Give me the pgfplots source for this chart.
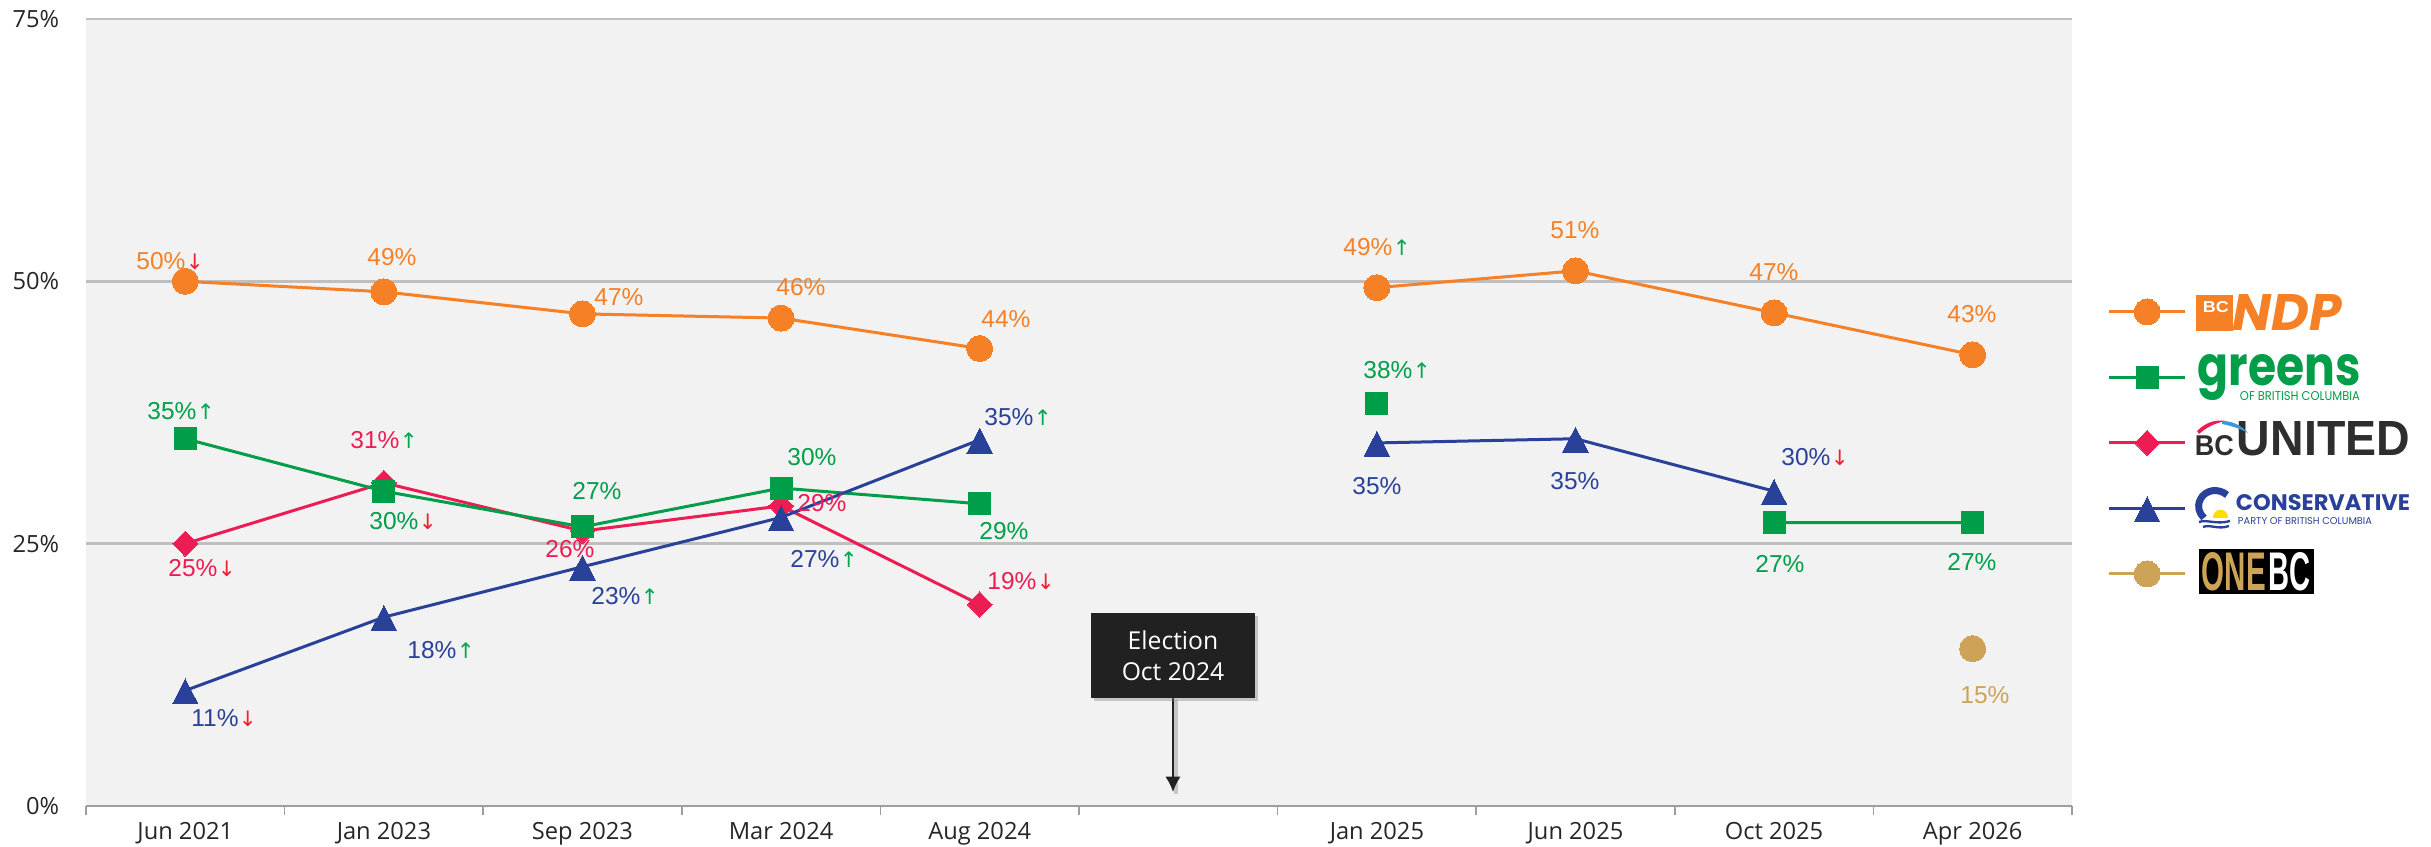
\documentclass[border=0pt]{standalone}
\usepackage{fontspec}
\usepackage{graphicx}
\usepackage{pgfplots}
\usepackage{pgfplotstable}
\pgfplotsset{compat=1.18}
\usetikzlibrary{shadows,arrows.meta}
\setmainfont{Liberation Sans}
\newfontfamily\tickf{Open Sans}
\newfontfamily\logof{Poppins}
\newfontfamily\arrf{DejaVu Sans}
\definecolor{ndp}{HTML}{F58025}
\definecolor{grn}{HTML}{009E49}
\definecolor{uni}{HTML}{ED1C53}
\definecolor{con}{HTML}{2A4199}
\definecolor{one}{HTML}{CDA358}
\definecolor{upc}{HTML}{00A651}
\definecolor{dnc}{HTML}{EE2030}
\definecolor{ticktxt}{HTML}{262626}
\pgfplotstableread{
x ndp grn uni con one
0 50 35 25 11 nan
1 49 30 30.8 18 nan
2 46.9 26.6 26.2 22.8 nan
3 46.5 30.3 28.6 27.5 nan
4 43.6 28.8 19.2 34.9 nan
5 nan nan nan nan nan
6 49.4 38.4 nan 34.6 nan
7 51 nan nan 35 nan
8 47 27 nan 30 nan
9 43 27 nan nan 15
}\polls
\pgfplotsset{
 sndp/.style={ndp,line width=.9pt,mark=*,mark size=3.9pt,mark options={solid,fill=ndp,draw=ndp,line width=0pt}},
 sgrn/.style={grn,line width=.9pt,mark=square*,mark size=3.3pt,mark options={solid,fill=grn,draw=grn,line width=0pt}},
 suni/.style={uni,line width=.9pt,mark=diamond*,mark size=3.8pt,mark options={solid,xscale=1.3,fill=uni,draw=uni,line width=0pt}},
 scon/.style={con,line width=.9pt,mark=triangle*,mark size=4.4pt,mark options={solid,yshift=-1.5pt,yscale=1.13,fill=con,draw=con,line width=0pt}},
 sone/.style={one,line width=.9pt,mark=*,mark size=3.9pt,mark options={solid,fill=one,draw=one,line width=0pt}},
}
\newcommand\up{\rlap{\kern.1pt\raisebox{-.1pt}{\arrf\fontsize{6.4pt}{7pt}\selectfont\textcolor{upc}{↑}}}}
\newcommand\dn{\rlap{\kern.1pt\raisebox{-.1pt}{\arrf\fontsize{6.4pt}{7pt}\selectfont\textcolor{dnc}{↓}}}}
% label: px x, px y (centre of the number), colour, text
\newcommand\lab[4]{\node[inner sep=0pt,text=#3,font=\fontsize{7.35pt}{8pt}\selectfont] at (axis cs:{(#1-86)/198.6-0.5},{(806-#2)/10.493}) {#4};}
% logo helper: dx, dy, w, h in reference pixels
\newcommand\logopart[5]{\rlap{\hspace*{\dimexpr 3pt*#1/10\relax}\smash{\raisebox{\dimexpr 3pt*#2/10+4.2pt\relax}{\resizebox{\dimexpr 3pt*#3/10\relax}{\dimexpr 3pt*#4/10\relax}{#5}}}}}
\newcommand\legrow[1]{\makebox[65pt][l]{#1\rule[-9.75pt]{0pt}{19.5pt}}}
\begin{document}
\begin{tikzpicture}
\useasboundingbox (-25.8pt,-12.3pt) rectangle (703.5pt,241.8pt);
\begin{axis}[
 scale only axis,width=595.8pt,height=236.1pt,
 xmin=-0.5,xmax=9.5,ymin=0,ymax=75,clip=false,
 axis background/.style={fill=black!5},
 unbounded coords=jump,
 axis x line*=bottom,
 y axis line style={draw=none},
 x axis line style={draw=black!38,line width=.5pt,-},
 xtick={0,1,2,3,4,6,7,8,9},
 xticklabels={Jun 2021,Jan 2023,Sep 2023,Mar 2024,Aug 2024,Jan 2025,Jun 2025,Oct 2025,Apr 2026},
 minor xtick={-0.5,0.5,...,9.5},
 major tick length=0pt,
 minor tick length=2.6pt,
 tick align=outside,
 minor tick style={draw=black!38,line width=.5pt},
 ytick={0,25,50,75},
 yticklabels={0\%,25\%,50\%,75\%},
 ymajorgrids,
 grid style={draw=black!25,line width=.85pt},
 xticklabel style={font=\tickf\fontsize{7.1pt}{8pt}\selectfont,text=ticktxt,yshift=-1.5pt},
 yticklabel style={font=\tickf\fontsize{7.1pt}{8pt}\selectfont,text=ticktxt,xshift=-4.5pt},
 legend cell align=left,
 legend style={at={(1.01762,0.6525)},anchor=north west,draw=none,fill=none,inner sep=0pt,
   nodes={inner sep=0pt},row sep=8.4pt,/tikz/column sep=2.8pt},
 legend image code/.code={\draw[mark repeat=2,mark phase=2,#1] plot coordinates {(0pt,0pt)(11.4pt,0pt)(22.8pt,0pt)};},
]
\addlegendimage{sndp}
\addlegendentry{\legrow{%
  \logopart{0}{-19}{37}{36}{\textcolor{ndp}{\rule{10pt}{10pt}}}%
  \logopart{7}{-1}{26}{11}{\textcolor{white}{\bfseries BC}}%
  \logopart{37}{-19}{109}{36}{\textcolor{ndp}{\logof\bfseries\itshape NDP}}}}
\addlegendimage{sgrn}
\addlegendentry{\legrow{%
  \logopart{2}{-8}{163}{31}{\textcolor{grn}{\logof\bfseries greens}}%
  \logopart{44}{-23}{120}{9}{\textcolor{grn}{\logof OF BRITISH COLUMBIA}}}}
\addlegendimage{suni}
\addlegendentry{\legrow{%
  \logopart{-1}{-13}{39}{20}{\textcolor{black!82}{\bfseries BC}}%
  \logopart{41}{-13}{173}{34}{\textcolor{black!82}{\bfseries UNITED}}}}
\addlegendimage{scon}
\addlegendentry{\legrow{%
  \logopart{40}{-2}{174}{16}{\textcolor{con}{\logof\bfseries CONSERVATIVE}}%
  \logopart{42}{-16}{134}{7}{\textcolor{con}{\logof PARTY OF BRITISH COLUMBIA}}}}
\addlegendimage{sone}
\addlegendentry{\legrow{%
  \logopart{3}{-20}{115}{45}{\textcolor{black}{\rule{10pt}{10pt}}}%
  \logopart{6}{-17}{64}{38}{\textcolor{one}{\bfseries ONE}}%
  \logopart{73}{-17}{42}{38}{\textcolor{white}{\bfseries BC}}}}

\addplot[sndp,forget plot] table[x=x,y=ndp]{\polls};
\addplot[suni,forget plot] table[x=x,y=uni]{\polls};
\addplot[sgrn,forget plot] table[x=x,y=grn]{\polls};
\addplot[scon,forget plot] table[x=x,y=con]{\polls};
\addplot[sone,forget plot] table[x=x,y=one]{\polls};

\lab{161}{261}{ndp}{50\%\dn}
\lab{392}{257}{ndp}{49\%}
\lab{619}{297}{ndp}{47\%}
\lab{801}{287}{ndp}{46\%}
\lab{1006}{319}{ndp}{44\%}
\lab{1368}{247}{ndp}{49\%\up}
\lab{1575}{230}{ndp}{51\%}
\lab{1774}{272}{ndp}{47\%}
\lab{1972}{314}{ndp}{43\%}
\lab{172}{411}{grn}{35\%\up}
\lab{394}{521}{grn}{30\%\dn}
\lab{597}{491}{grn}{27\%}
\lab{812}{457}{grn}{30\%}
\lab{1004}{531}{grn}{29\%}
\lab{1388}{370}{grn}{38\%\up}
\lab{1780}{564}{grn}{27\%}
\lab{1972}{562}{grn}{27\%}
\lab{193}{568}{uni}{25\%\dn}
\lab{375}{440}{uni}{31\%\up}
\lab{570}{549}{uni}{26\%}
\lab{822}{503}{uni}{29\%}
\lab{1012}{581}{uni}{19\%\dn}
\lab{215}{718}{con}{11\%\dn}
\lab{432}{650}{con}{18\%\up}
\lab{616}{596}{con}{23\%\up}
\lab{815}{559}{con}{27\%\up}
\lab{1009}{417}{con}{35\%\up}
\lab{1377}{486}{con}{35\%}
\lab{1575}{481}{con}{35\%}
\lab{1806}{457}{con}{30\%\dn}
\lab{1985}{695}{one}{15\%}

\draw[black!40,opacity=.5,line width=1.2pt] (axis cs:{(1176-86)/198.6-0.5},{(806-700)/10.493}) -- (axis cs:{(1176-86)/198.6-0.5},{(806-794)/10.493});
\draw[black!87,line width=.6pt,-{Latex[length=4.6pt,width=4.6pt]}] (axis cs:{(1173-86)/198.6-0.5},{(806-698)/10.493}) -- (axis cs:{(1173-86)/198.6-0.5},{(806-792)/10.493});
\node[fill=black!87,minimum width=49.2pt,minimum height=25.5pt,inner sep=0pt,text=white,align=center,
  font=\tickf\fontsize{7.4pt}{9.3pt}\selectfont,drop shadow={shadow xshift=1pt,shadow yshift=-1pt,opacity=.4}]
  at (axis cs:{(1173-86)/198.6-0.5},{(806-655.5)/10.493}) {Election\\Oct 2024};
\end{axis}
% small drawn parts of the logos, in reference pixels
\begin{scope}[x=0.3pt,y=-0.3pt,shift={(-25.8pt,241.8pt)}]
\fill[uni] (2197,431) .. controls (2205,423) and (2215,419) .. (2226,421) .. controls (2215,423) and (2207,427) .. (2199,434) -- cycle;
\fill[cyan!70!blue!80] (2222,421) .. controls (2232,421) and (2241,425) .. (2248,433) .. controls (2241,429) and (2232,426) .. (2222,424) -- cycle;
\draw[con,line width=2.1pt] (2227,495) .. controls (2219,488) and (2205,489) .. (2200,500) .. controls (2197,507) and (2199,513) .. (2204,518);
\fill[yellow!80!orange] (2213,518) .. controls (2213,507) and (2228,507) .. (2228,518) -- cycle;
\draw[con,line width=.7pt] (2199,522) .. controls (2207,519) and (2216,525) .. (2230,521);
\draw[con,line width=.7pt] (2203,527) .. controls (2210,524) and (2218,530) .. (2229,526);
\end{scope}
\end{tikzpicture}
\end{document}
